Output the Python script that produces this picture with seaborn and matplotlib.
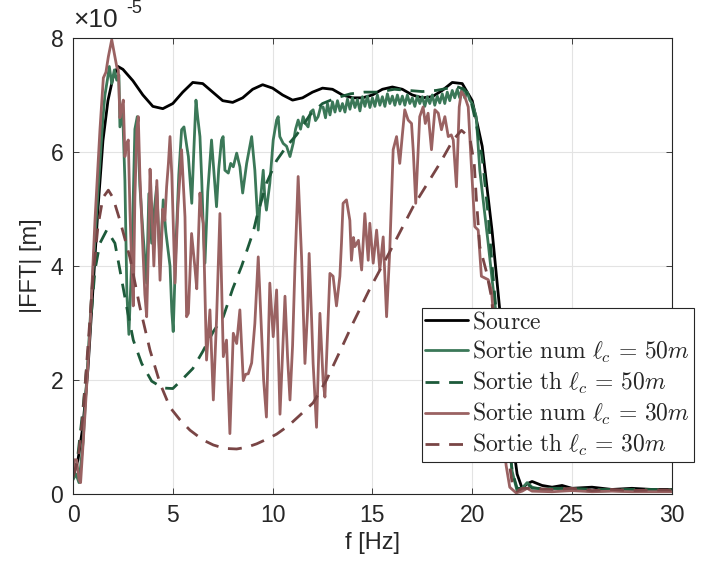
import numpy as np
import pandas as pd
import matplotlib
matplotlib.use('Agg')
import matplotlib.pyplot as plt
import seaborn as sns

# Source (amplitude in units of 1e-5 m)
f_src = [0, 0.25, 0.5, 0.75, 1.0, 1.25, 1.5, 1.75, 2.0, 2.25, 2.5, 3.0, 3.5, 4.0, 4.5,
         5.0, 5.5, 6.0, 6.5, 7.0, 7.5, 8.0, 8.5, 9.0, 9.5, 10, 10.5, 11, 11.5, 12,
         12.5, 13, 13.5, 14, 14.5, 15, 15.5, 16, 16.5, 17, 17.5, 18, 18.5, 19, 19.5,
         20, 20.5, 21, 21.5, 22, 22.25, 22.5, 22.75, 23, 23.5, 24, 24.5, 25, 26, 27,
         28, 29, 30]
a_src = [0.3, 0.6, 1.2, 2.2, 3.6, 5.0, 6.2, 6.9, 7.3, 7.5, 7.45, 7.25, 7.0, 6.8, 6.76,
         6.85, 7.05, 7.22, 7.2, 7.05, 6.9, 6.87, 6.95, 7.1, 7.18, 7.12, 7.0, 6.91, 6.95, 7.05,
         7.12, 7.1, 7.0, 6.95, 6.95, 7.0, 7.1, 7.14, 7.1, 7.0, 6.95, 6.97, 7.08, 7.22, 7.2,
         6.9, 6.1, 4.6, 2.8, 1.0, 0.35, 0.1, 0.18, 0.22, 0.15, 0.12, 0.15, 0.1, 0.12, 0.08,
         0.1, 0.08, 0.08]

# Sortie num lc = 50m
f_num50 = [0.0, 0.15, 0.3, 0.5, 0.75, 1.0, 1.25, 1.5, 1.6, 1.72, 1.82, 1.94, 2.07, 2.19,
           2.3, 2.35, 2.49, 2.6, 2.7, 2.8, 2.95, 3.1, 3.22, 3.35, 3.5, 3.69, 3.8, 3.94,
           4.05, 4.19, 4.36, 4.52, 4.65, 4.86, 4.95, 5.02, 5.15, 5.3, 5.44, 5.56, 5.7,
           5.78, 5.95, 6.05, 6.16, 6.25, 6.36, 6.45, 6.53, 6.61, 6.75, 6.94, 7.05, 7.19,
           7.3, 7.44, 7.52, 7.61, 7.78, 7.9, 8.03, 8.2, 8.36, 8.5, 8.7, 8.86, 8.95, 9.11,
           9.28, 9.36, 9.53, 9.61, 9.69, 9.86, 10.03, 10.2, 10.28, 10.36, 10.53, 10.7,
           10.87, 11.03, 11.15, 11.28, 11.4, 11.53, 11.65, 11.78, 11.9, 12.03, 12.15,
           12.28, 12.4, 12.53, 12.65, 12.75, 12.875, 13.0, 13.125, 13.25, 13.375, 13.5,
           13.625, 13.75, 13.875, 14.0, 14.125, 14.25, 14.375, 14.5, 14.625, 14.75,
           14.875, 15.0, 15.125, 15.25, 15.375, 15.5, 15.625, 15.75, 15.875, 16.0,
           16.125, 16.25, 16.375, 16.5, 16.625, 16.75, 16.875, 17.0, 17.125, 17.25,
           17.375, 17.5, 17.625, 17.75, 17.875, 18.0, 18.125, 18.25, 18.375, 18.5,
           18.625, 18.75, 18.875, 19.0, 19.125, 19.25, 19.375, 19.5, 19.625, 19.75,
           19.88, 20.0, 20.2, 20.38, 20.6, 20.8, 21.0, 21.25, 21.5, 21.75, 22.0, 22.25,
           22.5, 22.75, 23.0, 23.5, 24, 25, 26, 27, 28, 29, 30]
a_num50 = [0.25, 0.35, 0.2, 0.9, 2.4, 3.9, 5.3, 6.6, 7.0, 7.26, 7.5, 7.2, 7.44, 7.26,
           7.35, 6.44, 6.68, 5.5, 3.5, 2.8, 4.2, 6.4, 6.62, 5.4, 4.6, 3.7, 5.27, 4.4,
           4.9, 5.39, 4.04, 5.16, 4.6, 4.0, 3.2, 2.85, 4.3, 5.6, 6.39, 6.44, 6.1,
           5.92, 5.1, 6.0, 6.91, 6.6, 6.27, 5.5, 4.63, 4.05, 5.3, 6.21, 5.7, 5.04,
           5.7, 6.21, 6.27, 5.68, 5.63, 5.8, 5.74, 5.98, 5.74, 5.28, 5.8, 6.1, 6.27, 5.68,
           4.63, 5.04, 5.68, 5.2, 4.98, 5.45, 6.21, 6.56, 6.62, 6.27, 6.15, 6.1,
           5.92, 6.15, 6.4, 6.56, 6.4, 6.62, 6.5, 6.44, 6.7, 6.74, 6.55,
           6.62, 6.78, 6.79, 6.6, 6.85, 6.65, 6.88, 6.7, 6.9, 6.72, 6.85,
           6.7, 6.93, 6.75, 6.95, 6.78, 6.92, 6.72, 6.97, 6.8, 6.98,
           6.78, 6.95, 6.8, 7.0, 6.82, 6.97, 6.8, 7.02, 6.85, 6.98,
           6.82, 7.0, 6.84, 6.98, 6.82, 7.0, 6.85, 6.95, 6.8, 6.98,
           6.85, 6.97, 6.8, 6.97, 6.85, 7.0, 6.82, 6.98, 6.86, 7.02,
           6.85, 7.05, 6.9, 7.08, 6.95, 7.1, 6.95, 7.12, 6.95, 7.05,
           6.91, 6.85, 6.62, 5.68, 5.0, 4.4, 3.75, 3.0, 2.2, 1.3, 0.4, 0.05,
           0.1, 0.2, 0.12, 0.08, 0.1, 0.08, 0.05, 0.06, 0.05, 0.05, 0.05]

# Sortie th lc = 50m
f_th50 = [0, 0.25, 0.5, 0.85, 1.1, 1.35, 1.69, 2.1, 2.35, 2.69, 3.02, 3.44, 3.94, 4.5,
          5.0, 5.44, 6.0, 6.5, 7.03, 7.53, 8.0, 8.45, 9.03, 9.2, 9.69, 10.2, 10.7, 11.2,
          11.87, 12.5, 13.2, 13.9, 14.6, 15.3, 16.1, 16.8, 17.5, 18.2, 18.8, 19.2, 19.6,
          19.9, 20.2, 20.5, 20.8, 21.0, 21.25, 21.5, 21.75, 22.0, 22.25, 22.5, 22.75,
          23, 24, 25, 26, 27, 28, 29, 30]
a_th50 = [0.3, 0.7, 1.5, 2.87, 3.93, 4.4, 4.63, 4.4, 3.93, 3.28, 2.7, 2.29, 1.98, 1.86,
          1.85, 2.0, 2.2, 2.5, 2.85, 3.11, 3.6, 4.0, 4.6, 4.85, 5.45, 5.85, 6.1, 6.3,
          6.65, 6.85, 6.95, 7.02, 7.05, 7.05, 7.1, 7.08, 7.06, 7.08, 7.12, 7.15, 7.1,
          6.95, 6.5, 5.9, 4.9, 4.0, 3.0, 2.1, 1.2, 0.4, 0.1, 0.1, 0.18,
          0.1, 0.1, 0.1, 0.08, 0.08, 0.08, 0.08, 0.08]

# Sortie num lc = 30m
f_num30 = [0.0, 0.05, 0.18, 0.3, 0.38, 0.6, 0.85, 1.1, 1.35, 1.52, 1.65, 1.77, 1.94, 2.1,
           2.19, 2.27, 2.35, 2.45, 2.52, 2.6, 2.69, 2.77, 2.85, 2.94, 3.02, 3.1, 3.2,
           3.27, 3.35, 3.5, 3.6, 3.69, 3.8, 3.86, 3.95, 4.05, 4.2, 4.36, 4.5, 4.6, 4.69,
           4.78, 4.86, 4.95, 5.11, 5.25, 5.44, 5.61, 5.69, 5.78, 5.94, 6.1, 6.2, 6.36,
           6.45, 6.53, 6.69, 6.86, 7.03, 7.19, 7.36, 7.53, 7.69, 7.86, 8.03, 8.2, 8.36,
           8.53, 8.65, 8.78, 8.95, 9.11, 9.28, 9.44, 9.55, 9.69, 9.86, 10.03, 10.2,
           10.37, 10.5, 10.62, 10.75, 10.87, 11.0, 11.12, 11.28, 11.45, 11.62, 11.75,
           11.83, 11.95, 12.03, 12.2, 12.37, 12.53, 12.62, 12.7, 12.87, 13.03, 13.2,
           13.37, 13.45, 13.53, 13.7, 13.87, 13.95, 14.05, 14.12, 14.3, 14.46, 14.62,
           14.79, 14.87, 15.04, 15.21, 15.37, 15.54, 15.71, 15.87, 16.04, 16.21, 16.37,
           16.5, 16.62, 16.79, 16.96, 17.05, 17.17, 17.37, 17.54, 17.65, 17.79, 17.96,
           18.13, 18.3, 18.46, 18.63, 18.8, 18.95, 19.05, 19.21, 19.35, 19.46, 19.63,
           19.8, 19.97, 20.13, 20.3, 20.46, 20.8, 20.96, 21.1, 21.3, 21.5, 21.7, 21.88,
           22.2, 22.5, 22.75, 23, 24, 25, 26, 27, 28, 29, 30]
a_num30 = [0.3, 0.6, 0.6, 0.25, 0.2, 1.4, 2.87, 4.8, 6.39, 7.3, 7.4, 7.67, 7.97, 7.67,
           7.5, 7.44, 6.6, 6.8, 6.91, 5.92, 6.15, 6.21, 5.0, 4.0, 3.3, 5.2, 6.4,
           6.62, 5.6, 4.3, 3.5, 3.11, 4.6, 5.7, 5.0, 4.0, 5.5, 3.75, 5.0, 4.8, 5.39,
           5.8, 6.27, 5.6, 3.7, 5.0, 6.04, 4.86, 3.11, 3.17, 4.57, 4.0, 3.6, 5.28,
           4.9, 4.75, 2.35, 3.23, 1.65, 3.05, 4.92, 2.41, 2.7, 1.06, 2.82, 2.64, 3.23,
           1.99, 2.1, 2.11, 2.3, 2.99, 4.16, 2.88, 2.0, 1.35, 3.7, 2.76, 3.58,
           1.4, 2.5, 3.47, 2.4, 1.65, 2.6, 4.0, 5.57, 4.16, 2.29, 3.2,
           4.22, 3.1, 2.29, 1.17, 3.17, 1.99, 1.7, 2.35, 3.87, 3.82, 3.3,
           3.82, 4.4, 5.1, 5.16, 4.8, 4.1, 4.5, 4.34, 4.45, 3.93, 4.92,
           4.1, 4.75, 4.05, 4.63, 3.93, 4.51, 3.11, 4.28, 6.04, 6.27, 5.8,
           6.3, 6.74, 6.56, 6.5, 6.0, 5.1, 6.62, 6.79, 6.5, 6.68, 6.04,
           6.74, 6.68, 6.39, 6.62, 6.27, 6.3, 6.21, 5.39, 6.79, 7.06, 6.97,
           6.79, 5.68, 4.69, 4.63, 3.82, 3.76, 3.58, 3.0, 2.0, 1.2, 0.5, 0.12,
           0.02, 0.05, 0.1, 0.05, 0.04, 0.06, 0.04, 0.05, 0.04, 0.04, 0.04]

# Sortie th lc = 30m
f_th30 = [0, 0.25, 0.5, 0.75, 1.0, 1.25, 1.5, 1.77, 2.0, 2.35, 2.85, 3.35, 3.86, 4.36,
          4.86, 5.36, 5.86, 6.5, 7.03, 7.6, 8.2, 8.7, 9.2, 9.7, 10.2, 10.8, 11.36, 12.03,
          12.7, 13.37, 14.03, 14.87, 15.87, 17.04, 18.38, 19.04, 19.46, 19.88, 20.1,
          20.2, 20.38, 20.71, 20.96, 21.2, 21.5, 21.75, 22.0, 22.25, 22.5, 23, 24, 25,
          26, 27, 28, 29, 30]
a_th30 = [0.3, 0.6, 1.4, 2.6, 3.8, 4.7, 5.2, 5.33, 5.2, 4.8, 4.15, 3.28, 2.52, 1.94,
          1.52, 1.3, 1.12, 0.95, 0.86, 0.8, 0.79, 0.82, 0.88, 0.96, 1.05, 1.2, 1.38, 1.6,
          2.0, 2.5, 3.0, 3.6, 4.25, 5.04, 5.8, 6.21, 6.38, 6.25, 5.8,
          5.22, 4.34, 3.9, 3.46, 2.6, 1.6, 0.8, 0.2, 0.05, 0.1, 0.1, 0.08, 0.1,
          0.06, 0.08, 0.06, 0.07, 0.07]

labels = [r'$\mathrm{Source}$',
          r'$\mathrm{Sortie\ num}\ \ell_c \,=\, 50m$',
          r'$\mathrm{Sortie\ th}\ \ell_c \,=\, 50m$',
          r'$\mathrm{Sortie\ num}\ \ell_c \,=\, 30m$',
          r'$\mathrm{Sortie\ th}\ \ell_c \,=\, 30m$']
colors = ['#000000', '#3b7858', '#1d5a3a', '#9a6262', '#794545']

sns.set_style('whitegrid')
plt.rcParams['font.family'] = ['Liberation Sans', 'DejaVu Sans']
plt.rcParams['mathtext.fontset'] = 'cm'

fig = plt.figure(figsize=(7.02, 5.78), dpi=100)
ax = fig.add_axes([0.104, 0.1453, 0.853, 0.789])

series = [(f_src, a_src, '-'), (f_num50, a_num50, '-'), (f_th50, a_th50, '--'),
          (f_num30, a_num30, '-'), (f_th30, a_th30, '--')]
for (f, a, ls), lab, col in zip(series, labels, colors):
    df = pd.DataFrame({'f': f, 'a': a})
    sns.lineplot(data=df, x='f', y='a', ax=ax, color=col, linewidth=2.0,
                 linestyle=ls, label=lab, estimator=None, sort=False)

for line in ax.get_lines():
    if line.get_linestyle() == '--':
        line.set_dashes([5, 3.5])

ax.set_xlim(0, 30)
ax.set_ylim(0, 8)
ax.set_xticks([0, 5, 10, 15, 20, 25, 30])
ax.set_yticks([0, 2, 4, 6, 8])
ax.grid(True, color='#e3e3e3', linewidth=0.8)
for sp in ax.spines.values():
    sp.set_visible(True)
    sp.set_color('#262626')
    sp.set_linewidth(0.8)
ax.tick_params(direction='in', length=4, width=0.6, color='#262626',
               labelsize=16.5, labelcolor='#262626', pad=7,
               top=True, right=True, bottom=True, left=True)
ax.set_xlabel('f [Hz]', fontsize=17, color='#262626', labelpad=4)
ax.set_ylabel('|FFT| [m]', fontsize=17, color='#262626', labelpad=6)

# exponent label
fig.text(0.104, 0.965, '\u00d710', fontsize=19, color='#262626', va='center', ha='left')
fig.text(0.180, 0.985, '-5', fontsize=13, color='#262626', va='center', ha='left')

leg = ax.legend(loc='upper left', bbox_to_anchor=(0.582, 0.408), borderaxespad=0,
                fontsize=17, frameon=True, fancybox=False, framealpha=1,
                edgecolor='#262626', handlelength=1.8, handletextpad=0.2,
                labelspacing=0.22, borderpad=0.15)
leg.get_frame().set_linewidth(0.8)

fig.savefig('out.png', dpi=100)
